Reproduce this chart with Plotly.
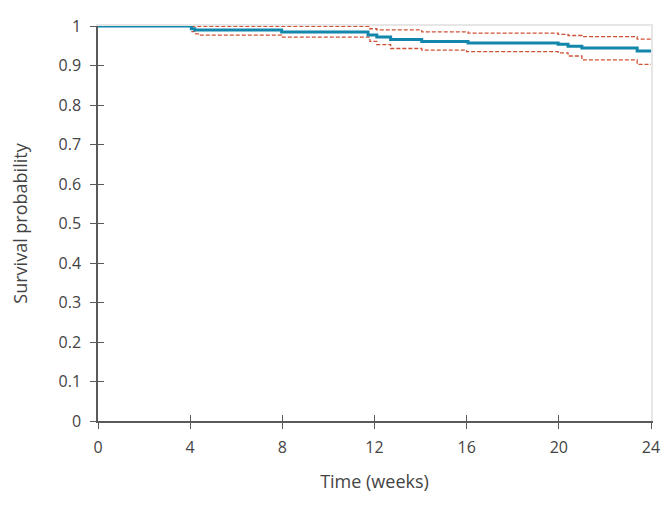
import plotly.graph_objects as go

# Kaplan-Meier estimate (weeks, survival)
km_weeks = [0, 4.05, 4.2, 7.97, 11.72, 12.1, 12.7, 14.05, 16.06, 19.97, 20.4, 21.0, 23.4, 24]
km_surv = [1.0, 0.993, 0.990, 0.985, 0.977, 0.972, 0.966, 0.961, 0.957, 0.954, 0.949, 0.944, 0.937, 0.937]

# Upper confidence limit
up_weeks = [4.05, 11.8, 12.1, 14.05, 16.06, 19.97, 20.4, 21.0, 23.4, 24.05]
up_vals = [0.999, 0.993, 0.990, 0.985, 0.982, 0.979, 0.976, 0.973, 0.967, 0.967]

# Lower confidence limit
lo_weeks = [4.05, 4.2, 4.4, 7.97, 11.8, 12.1, 12.7, 14.05, 16.0, 19.97, 20.4, 21.0, 23.4, 24.05]
lo_vals = [0.986, 0.980, 0.977, 0.972, 0.961, 0.953, 0.943, 0.939, 0.935, 0.932, 0.924, 0.914, 0.903, 0.903]

x_ticks = [0, 4, 8, 12, 16, 20, 24]
y_ticks = [0, 0.1, 0.2, 0.3, 0.4, 0.5, 0.6, 0.7, 0.8, 0.9, 1]
y_labels = ["0", "0.1", "0.2", "0.3", "0.4", "0.5", "0.6", "0.7", "0.8", "0.9", "1"]

MAIN = "#1387ab"
CI = "#cf5236"
AX = "#5a5a5a"
FONT = "Open Sans"

fig = go.Figure()
# invisible helper traces so the overlay axes get drawn
fig.add_trace(go.Scatter(x=[0, 24], y=[0, 1], xaxis="x2", yaxis="y2", mode="markers",
                         marker=dict(opacity=0), hoverinfo="skip"))
fig.add_trace(go.Scatter(x=[0, 24], y=[0, 1], xaxis="x3", yaxis="y3", mode="markers",
                         marker=dict(opacity=0), hoverinfo="skip"))
fig.add_trace(go.Scatter(x=up_weeks, y=up_vals, mode="lines", line=dict(shape="hv", color=CI, width=1.3, dash="4px,2px"), hoverinfo="skip"))
fig.add_trace(go.Scatter(x=lo_weeks, y=lo_vals, mode="lines", line=dict(shape="hv", color=CI, width=1.3, dash="4px,2px"), hoverinfo="skip"))
fig.add_trace(go.Scatter(x=km_weeks, y=km_surv, mode="lines", line=dict(shape="hv", color=MAIN, width=3)))

common_x = dict(range=[0, 24], tickvals=x_ticks, automargin=False)
common_y = dict(range=[0, 1], tickvals=y_ticks, automargin=False)

fig.update_layout(
    width=661, height=505,
    margin=dict(l=90, r=18, t=18, b=92),
    paper_bgcolor="white", plot_bgcolor="white",
    showlegend=False,
    font=dict(family=FONT, size=16, color="#444444"),
    xaxis=dict(**common_x, ticktext=[str(v) for v in x_ticks], ticks="outside", ticklen=6, tickcolor=AX,
               showline=True, linecolor=AX, linewidth=1.5, showgrid=False, zeroline=False,
               ticklabelstandoff=5,
               title=dict(text="Time (weeks)", font=dict(size=18), standoff=18), tickfont=dict(size=16)),
    yaxis=dict(**common_y, ticktext=y_labels, ticks="outside", ticklen=6, tickcolor=AX,
               showline=True, linecolor=AX, linewidth=1.5, showgrid=False, zeroline=False,
               ticklabelstandoff=6,
               title=dict(text="Survival probability", font=dict(size=18), standoff=46), tickfont=dict(size=16)),
    xaxis2=dict(**common_x, overlaying="x", side="bottom", ticks="inside", ticklen=6, tickcolor=AX, tickwidth=1,
                showticklabels=False, showline=False, showgrid=False, zeroline=False, anchor="y2"),
    yaxis2=dict(**common_y, overlaying="y", side="left", ticks="inside", ticklen=6, tickcolor=AX, tickwidth=1,
                showticklabels=False, showline=False, showgrid=False, zeroline=False, anchor="x2"),
    xaxis3=dict(**common_x, overlaying="x", side="top", showline=True, linecolor="#e6e6e6", linewidth=1.5,
                ticks="", showticklabels=False, showgrid=False, zeroline=False, anchor="y3"),
    yaxis3=dict(**common_y, overlaying="y", side="right", showline=True, linecolor="#e6e6e6", linewidth=1.5,
                ticks="", showticklabels=False, showgrid=False, zeroline=False, anchor="x3"),
)

fig.write_html("out.html")
